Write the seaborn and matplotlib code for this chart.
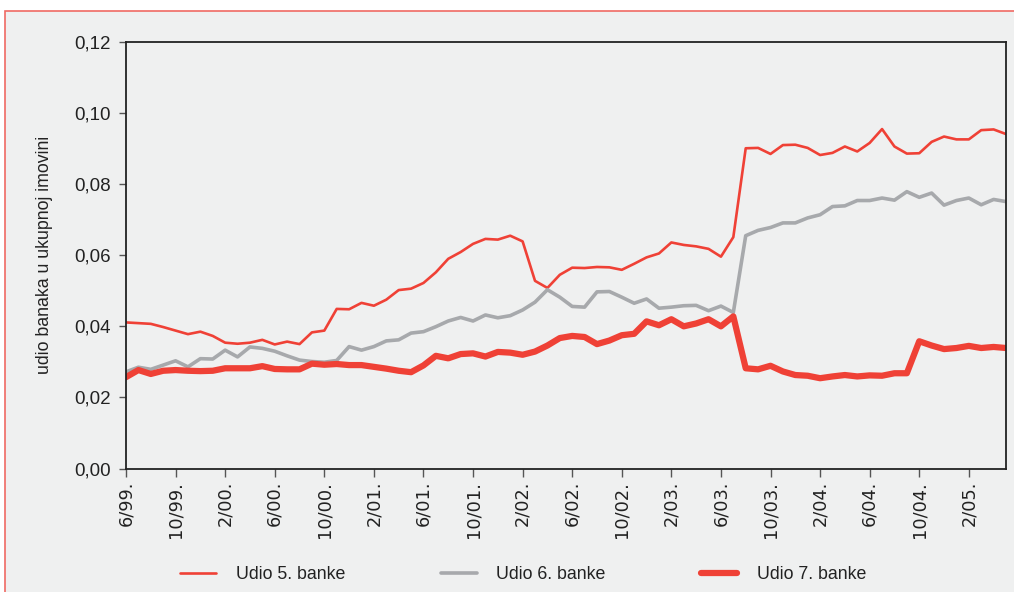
import matplotlib
matplotlib.use("Agg")
import matplotlib.pyplot as plt
from matplotlib.patches import Rectangle
import seaborn as sns
import pandas as pd
import numpy as np

# Monthly data, 6/99 .. 5/05 (72 months)
udio5 = [0.0411, 0.0409, 0.0407, 0.0398, 0.0388, 0.0378, 0.0385, 0.0373, 0.0354, 0.0351,
         0.0354, 0.0362, 0.0349, 0.0357, 0.0350, 0.0383, 0.0388, 0.0449, 0.0448, 0.0466,
         0.0458, 0.0475, 0.0502, 0.0506, 0.0522, 0.0552, 0.0590, 0.0609, 0.0632, 0.0646,
         0.0644, 0.0655, 0.0639, 0.0528, 0.0508, 0.0545, 0.0565, 0.0564, 0.0567, 0.0566,
         0.0559, 0.0576, 0.0594, 0.0605, 0.0636, 0.0629, 0.0625, 0.0618, 0.0596, 0.0651,
         0.0901, 0.0902, 0.0885, 0.0910, 0.0911, 0.0902, 0.0882, 0.0888, 0.0906, 0.0892,
         0.0916, 0.0955, 0.0906, 0.0886, 0.0887, 0.0919, 0.0934, 0.0926, 0.0926, 0.0952,
         0.0954, 0.0941]
udio6 = [0.0272, 0.0285, 0.0279, 0.0291, 0.0303, 0.0286, 0.0309, 0.0308, 0.0333, 0.0314,
         0.0342, 0.0338, 0.0330, 0.0317, 0.0305, 0.0301, 0.0299, 0.0304, 0.0343, 0.0333,
         0.0343, 0.0359, 0.0362, 0.0381, 0.0385, 0.0399, 0.0415, 0.0425, 0.0415, 0.0432,
         0.0424, 0.0430, 0.0446, 0.0468, 0.0503, 0.0482, 0.0456, 0.0454, 0.0497, 0.0498,
         0.0482, 0.0465, 0.0477, 0.0451, 0.0454, 0.0458, 0.0459, 0.0444, 0.0457, 0.0439,
         0.0655, 0.0670, 0.0678, 0.0691, 0.0691, 0.0705, 0.0714, 0.0737, 0.0739, 0.0754,
         0.0754, 0.0761, 0.0755, 0.0779, 0.0763, 0.0775, 0.0741, 0.0754, 0.0761, 0.0742,
         0.0757, 0.0751]
udio7 = [0.0257, 0.0277, 0.0266, 0.0275, 0.0277, 0.0275, 0.0274, 0.0275, 0.0282, 0.0282,
         0.0282, 0.0288, 0.0280, 0.0279, 0.0279, 0.0295, 0.0292, 0.0294, 0.0291, 0.0291,
         0.0286, 0.0281, 0.0275, 0.0271, 0.0290, 0.0317, 0.0310, 0.0322, 0.0324, 0.0315,
         0.0328, 0.0326, 0.0320, 0.0329, 0.0346, 0.0367, 0.0373, 0.0370, 0.0350, 0.0360,
         0.0375, 0.0379, 0.0414, 0.0403, 0.0420, 0.0400, 0.0408, 0.0420, 0.0400, 0.0428,
         0.0282, 0.0279, 0.0289, 0.0273, 0.0263, 0.0261, 0.0254, 0.0259, 0.0263, 0.0259,
         0.0262, 0.0261, 0.0268, 0.0268, 0.0358, 0.0346, 0.0336, 0.0339, 0.0345, 0.0339,
         0.0342, 0.0339]

series_names = ["Udio 5. banke", "Udio 6. banke", "Udio 7. banke"]
tick_labels = ["6/99.", "10/99.", "2/00.", "6/00.", "10/00.", "2/01.", "6/01.", "10/01.",
               "2/02.", "6/02.", "10/02.", "2/03.", "6/03.", "10/03.", "2/04.", "6/04.",
               "10/04.", "2/05."]
y_ticks = [0.00, 0.02, 0.04, 0.06, 0.08, 0.10, 0.12]
y_tick_labels = ["0,00", "0,02", "0,04", "0,06", "0,08", "0,10", "0,12"]

RED = "#ef4136"
GRAY = "#a7a9ac"
BG = "#eff0f0"

month_idx = np.arange(len(udio5))
df = pd.DataFrame({"m": month_idx, series_names[0]: udio5,
                   series_names[1]: udio6, series_names[2]: udio7})

sns.set_theme(style="white")
plt.rcParams["font.family"] = ["Liberation Sans", "DejaVu Sans"]

fig = plt.figure(figsize=(10.14, 5.92), dpi=100)
fig.patch.set_facecolor("white")
frame = Rectangle((5 / 1014, -0.05), 1.2, (592 - 11) / 592 + 0.05,
                  transform=fig.transFigure, facecolor=BG,
                  edgecolor="#f06a64", linewidth=1.2, zorder=-10)
fig.patches.append(frame)

ax = fig.add_axes([126 / 1014, 1 - 468.5 / 592, 880 / 1014, (468.5 - 42) / 592])
ax.set_zorder(5)
ax.set_facecolor(BG)

styles = [(series_names[0], RED, 1.9), (series_names[1], GRAY, 2.6), (series_names[2], RED, 4.5)]
for name, col, lw in styles:
    sns.lineplot(data=df, x="m", y=name, ax=ax, color=col, linewidth=lw, label=name,
                 legend=False)

ax.set_xlim(0, len(udio5) - 1)
ax.set_ylim(0, 0.12)
ax.set_yticks(y_ticks)
ax.set_yticklabels(y_tick_labels, fontsize=13.5, color="#222222")
ax.set_xticks(np.arange(len(tick_labels)) * 4)
ax.set_xticklabels(tick_labels, rotation=90, fontsize=12.8, color="#222222",
                   family="DejaVu Sans")
ax.tick_params(axis="y", direction="out", length=5, width=1, color="#555555", pad=6,
               left=True)
ax.tick_params(axis="x", direction="out", length=6, width=1, color="#555555", pad=3,
               bottom=True)
ax.set_xlabel("")
ax.set_ylabel("udio banaka u ukupnoj imovini", fontsize=12.8, color="#222222")
ax.yaxis.set_label_coords(-0.083, 0.5)

for s in ax.spines.values():
    s.set_visible(True)
    s.set_color("#222222")
    s.set_linewidth(1.3)

handles, labels = ax.get_legend_handles_labels()
leg = fig.legend(handles, labels, loc="center", bbox_to_anchor=(0.516, 0.029), ncol=3,
                 frameon=False, fontsize=12.8, handlelength=2.0, handletextpad=1.1,
                 columnspacing=5.4)
for t in leg.get_texts():
    t.set_color("#222222")

fig.savefig("out.png", dpi=100, facecolor=fig.get_facecolor())
